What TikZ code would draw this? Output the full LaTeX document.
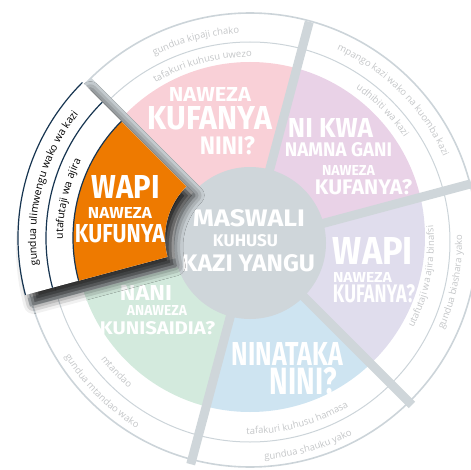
\documentclass[tikz,border=0pt]{standalone}
\usepackage{fontspec}
\usepackage{graphicx}
\usepackage[]{xcolor}
\usepackage[]{tikz}
\usetikzlibrary{decorations.text}
\usetikzlibrary{shadows.blur}
\newfontfamily\headfont{Fira Sans}
\newfontfamily\ringfont{Open Sans}
\definecolor{pinkfill}{RGB}{249,208,215}
\definecolor{mauvefill}{RGB}{233,210,231}
\definecolor{lavfill}{RGB}{224,221,237}
\definecolor{bluefill}{RGB}{206,228,241}
\definecolor{greenfill}{RGB}{211,234,221}
\definecolor{orangefill}{RGB}{238,122,0}
\definecolor{wheelgray}{RGB}{207,214,218}
\definecolor{ringgray}{RGB}{204,212,217}
\definecolor{ringtxt}{RGB}{196,198,200}
\definecolor{piecenavy}{RGB}{22,52,80}
\newcommand{\ttl}[3]{\resizebox{#1pt}{#2pt}{\headfont\bfseries #3}}
\tikzset{divider/.style={line width=9pt,draw=wheelgray},
  ringline/.style={draw=ringgray,line width=1pt},
  rimline/.style={draw=ringgray,line width=1.6pt},
  piecerim/.style={draw=piecenavy,line width=1.2pt},
  title/.style={inner sep=0pt,text=white},
  ringtext/.style={decorate,decoration={text along path,text align=center,text color=ringtxt,
    text={|\ringfont\fontsize{9.5}{11}\selectfont|#1}}},
  piecetext/.style={decorate,decoration={text along path,text align=center,text color=black,
    text={|\ringfont\fontsize{10.5}{12}\selectfont|#1}}}}

\begin{document}
\begin{tikzpicture}[x=1pt,y=1pt]
            \useasboundingbox (-250,-226) rectangle (221,243);
            \begin{scope}
                \clip (0,6) circle[radius=175];
                \foreach \a/\c in {-45/lavfill,15/mauvefill,75/pinkfill,195/greenfill,255/bluefill}
                    \fill[\c] (0,0) -- (\a:260) arc[start angle=\a,end angle=\a+60,radius=260] -- cycle;
            \end{scope}
            \draw[ringline] (0,1) circle[radius=200];
            \draw[rimline] (0,3) circle[radius=227];
            \foreach \a in {15,75,...,315}
                \draw[divider] (\a:60) -- (\a:229);
            \node[circle,fill=wheelgray,minimum size=152pt,inner sep=0pt] (hub) at (0,0) {};
            \node[title] (hubA) at (-1,24.5) {\ttl{112}{17}{MASWALI}};
            \node[title] (hubB) at (-4.5,2) {\ttl{65}{12}{KUHUSU}};
            \node[title] (hubC) at (-1.5,-20.5) {\ttl{133}{17}{KAZI YANGU}};
            \node[title] (pinkA) at (-40,148) {\ttl{82}{14}{NAWEZA}};
            \node[title] (pinkB) at (-40,124.5) {\ttl{124}{23}{KUFANYA}};
            \node[title] (pinkC) at (-22.5,97) {\ttl{55}{18}{NINI?}};
            \node[title] (mauveA) at (80.5,115.5) {\ttl{85}{19}{NI KWA}};
            \node[title] (mauveB) at (88.5,93) {\ttl{107}{14}{NAMNA GANI}};
            \node[title] (mauveC) at (98.5,73) {\ttl{53}{10}{NAWEZA}};
            \node[title] (mauveD) at (113.5,55.5) {\ttl{97}{15}{KUFANYA?}};
            \node[title] (lavA) at (123,-8) {\ttl{80}{27}{WAPI}};
            \node[title] (lavB) at (112.5,-34) {\ttl{59}{10}{NAWEZA}};
            \node[title] (lavC) at (124,-51) {\ttl{82}{18}{KUFANYA?}};
            \node[title] (blueA) at (37.5,-110.5) {\ttl{111}{23}{NINATAKA}};
            \node[title] (blueB) at (53.5,-138.5) {\ttl{67}{27}{NINI?}};
            \node[title] (greenA) at (-104,-49.5) {\ttl{52}{15}{NANI}};
            \node[title] (greenB) at (-93,-67) {\ttl{60}{10}{ANAWEZA}};
            \node[title] (greenC) at (-92.5,-85.5) {\ttl{115}{13}{KUNISAIDIA?}};
            \path[ringtext=gundua kipaji chako] (150:210) arc[start angle=150,end angle=60,radius=210];
            \path[ringtext=tafakuri kuhusu uwezo] (150:186) arc[start angle=150,end angle=60,radius=186];
            \path[ringtext=mpango kazi wako na kuomba kazi] (95:212) arc[start angle=95,end angle=-5,radius=212];
            \path[ringtext=udhibiti wa kazi] (90:187) arc[start angle=90,end angle=0,radius=187];
            \path[ringtext=gundua biashara yako] (-56:212) arc[start angle=-56,end angle=34,radius=212];
            \path[ringtext=utafutaji wa ajira binafsi] (-56:184) arc[start angle=-56,end angle=34,radius=184];
            \path[ringtext=gundua shauku yako] (-119:217) arc[start angle=-119,end angle=-29,radius=217];
            \path[ringtext=tafakuri kuhusu hamasa] (-120:191) arc[start angle=-120,end angle=-30,radius=191];
            \path[ringtext=gundua mtandao wako] (180:217) arc[start angle=180,end angle=270,radius=217];
            \path[ringtext=mtandao] (179:189) arc[start angle=179,end angle=269,radius=189];
            \begin{scope}[shift={(-12,5)}]
                \path[fill=white,blur shadow={shadow xshift=8pt,shadow yshift=-9pt,shadow blur radius=10pt,shadow opacity=85}]
                    (135:73) -- (135:220) arc[start angle=135,end angle=195,radius=220]
                    -- (195:73) arc[start angle=195,end angle=135,radius=73] -- cycle;
                \fill[orangefill] (135:73) -- (135:165) arc[start angle=135,end angle=195,radius=165]
                    -- (195:73) arc[start angle=195,end angle=135,radius=73] -- cycle;
                \draw[piecerim] (135:165) arc[start angle=135,end angle=195,radius=165];
                \draw[piecerim] (135:192) arc[start angle=135,end angle=195,radius=192];
                \draw[piecerim] (135:220) arc[start angle=135,end angle=195,radius=220];
                \path[piecetext=gundua ulimwengu wako wa kazi] (215:202) arc[start angle=215,end angle=115,radius=202];
                \path[piecetext=utafutaji wa ajira] (212:175) arc[start angle=212,end angle=122,radius=175];
            \end{scope}
            \node[title] (orangeA) at (-124,56.5) {\ttl{68}{23}{WAPI}};
            \node[title] (orangeB) at (-130,30.5) {\ttl{64}{11}{NAWEZA}};
            \node[title] (orangeC) at (-130,9) {\ttl{90}{18}{KUFUNYA}};
\end{tikzpicture}
\end{document}
